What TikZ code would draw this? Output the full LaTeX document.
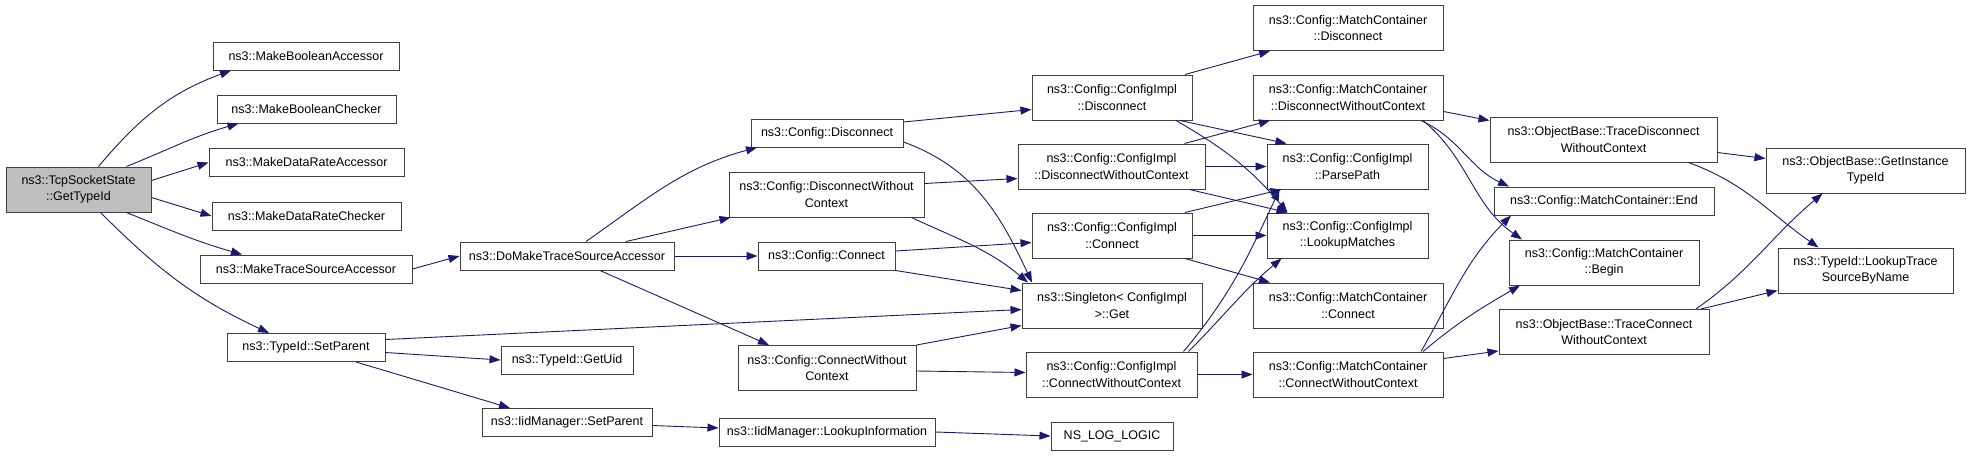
\documentclass[tikz,border=0pt]{standalone}
\usepackage{fontspec}
\setmainfont{Liberation Sans}
\usetikzlibrary{arrows.meta}
\definecolor{edgeblue}{RGB}{25,25,112}
\definecolor{boxgray}{RGB}{64,64,64}

\begin{document}
\begin{tikzpicture}
                [
                x=1pt, y=-1pt,
                fn/.style={draw=boxgray, line width=1pt, rectangle, inner sep=0pt, align=center,
                    minimum width=#1, minimum height=28pt, font=\fontsize{12.5}{16.5}\selectfont},
                fn2/.style={fn=#1, minimum height=45pt},
                edge/.style={-{Triangle[length=11pt,width=8pt]}, draw=edgeblue, line width=0.9pt}
                ]
                \useasboundingbox (0,0) rectangle (1971,456);
                % Root node
                \node[fn2=145, fill=gray!50] (root) at (78.5,189.5) {ns3::TcpSocketState\\::GetTypeId};
                % Level 1: direct callees
                \node[fn=186] (mba) at (306,56) {ns3::MakeBooleanAccessor};
                \node[fn=179] (mbc) at (306.5,109) {ns3::MakeBooleanChecker};
                \node[fn=195] (mda) at (306.5,162.5) {ns3::MakeDataRateAccessor};
                \node[fn=189] (mdc) at (306.5,216) {ns3::MakeDataRateChecker};
                \node[fn=212] (mtsa) at (306,269) {ns3::MakeTraceSourceAccessor};
                \node[fn=158] (tsp) at (306,347.5) {ns3::TypeId::SetParent};
                % Level 2
                \node[fn=214] (domake) at (567,256) {ns3::DoMakeTraceSourceAccessor};
                \node[fn=132] (getuid) at (567,360) {ns3::TypeId::GetUid};
                \node[fn=170] (iidsp) at (567,422.5) {ns3::IidManager::SetParent};
                % Level 3
                \node[fn=152] (cdis) at (827,133) {ns3::Config::Disconnect};
                \node[fn2=195] (cdiswc) at (826.5,194.5) {ns3::Config::DisconnectWithout\\Context};
                \node[fn=137] (ccon) at (826.5,256) {ns3::Config::Connect};
                \node[fn2=178] (cconwc) at (827,368) {ns3::Config::ConnectWithout\\Context};
                \node[fn=216] (iidli) at (827,432) {ns3::IidManager::LookupInformation};
                % Level 4
                \node[fn2=160] (cidis) at (1112,97.5) {ns3::Config::ConfigImpl\\::Disconnect};
                \node[fn2=187] (cidiswc) at (1111.5,166.5) {ns3::Config::ConfigImpl\\::DisconnectWithoutContext};
                \node[fn2=160] (cicon) at (1112,235.5) {ns3::Config::ConfigImpl\\::Connect};
                \node[fn2=180] (sget) at (1112,305.5) {ns3::Singleton< ConfigImpl\\>::Get};
                \node[fn2=171] (ciconwc) at (1111.5,374.5) {ns3::Config::ConfigImpl\\::ConnectWithoutContext};
                \node[fn=122] (nslog) at (1112,436) {NS\_LOG\_LOGIC};
                % Level 5
                \node[fn2=190] (mcdis) at (1348,28) {ns3::Config::MatchContainer\\::Disconnect};
                \node[fn2=190] (mcdiswc) at (1348,97.5) {ns3::Config::MatchContainer\\::DisconnectWithoutContext};
                \node[fn2=161] (parse) at (1347.5,166.5) {ns3::Config::ConfigImpl\\::ParsePath};
                \node[fn2=161] (lookup) at (1347.5,235.5) {ns3::Config::ConfigImpl\\::LookupMatches};
                \node[fn2=190] (mccon) at (1348,305.5) {ns3::Config::MatchContainer\\::Connect};
                \node[fn2=190] (mcconwc) at (1348,374.5) {ns3::Config::MatchContainer\\::ConnectWithoutContext};
                % Level 6
                \node[fn2=227] (otdis) at (1603.5,139.5) {ns3::ObjectBase::TraceDisconnect\\WithoutContext};
                \node[fn=220] (mcend) at (1604,201) {ns3::Config::MatchContainer::End};
                \node[fn2=190] (mcbegin) at (1604,262.5) {ns3::Config::MatchContainer\\::Begin};
                \node[fn2=210] (otcon) at (1604,332) {ns3::ObjectBase::TraceConnect\\WithoutContext};
                % Level 7
                \node[fn2=199] (git) at (1865.5,170.5) {ns3::ObjectBase::GetInstance\\TypeId};
                \node[fn2=175] (lts) at (1865.5,270.5) {ns3::TypeId::LookupTrace\\SourceByName};
                % Edges from the root
                \draw[edge] ([xshift=20pt]root.north) to[out=50, in=200] ([xshift=-75pt]mba.south);
                \draw[edge] ([xshift=48pt]root.north) to[out=22, in=196] ([xshift=-68pt]mbc.south);
                \draw[edge] ([yshift=9pt]root.east) -- (mda.west);
                \draw[edge] ([yshift=-8pt]root.east) -- (mdc.west);
                \draw[edge] ([xshift=48pt]root.south) to[out=-22, in=164] ([xshift=-64pt]mtsa.north);
                \draw[edge] ([xshift=22pt]root.south) to[out=-45, in=155] ([xshift=-37pt]tsp.north);
                % Level 1 and 2 edges
                \draw[edge] (mtsa.east) -- (domake.west);
                \draw[edge] ([yshift=8pt]tsp.east) -- ([yshift=-4pt]sget.west);
                \draw[edge] ([yshift=-5pt]tsp.east) -- (getuid.west);
                \draw[edge] ([xshift=50pt]tsp.south) -- ([xshift=-57pt]iidsp.north);
                \draw[edge] ([yshift=-3pt]iidsp.east) -- ([yshift=4pt]iidli.west);
                \draw[edge] (iidli.east) -- (nslog.west);
                \draw[edge] ([xshift=19pt]domake.north) to[out=35, in=195] ([xshift=-70pt]cdis.south);
                \draw[edge] ([xshift=59pt]domake.north) -- ([xshift=-96pt]cdiswc.south);
                \draw[edge] (domake.east) -- (ccon.west);
                \draw[edge] ([xshift=33pt]domake.south) -- ([xshift=-58pt]cconwc.north);
                % Level 3 edges
                \draw[edge] ([yshift=11pt]cdis.east) -- ([yshift=-12pt]cidis.west);
                \draw[edge] ([yshift=-9pt]cdis.east) to[out=-20, in=115] ([xshift=-80pt]sget.north);
                \draw[edge] ([yshift=11pt]cdiswc.east) -- ([yshift=-12pt]cidiswc.west);
                \draw[edge] ([xshift=85pt]cdiswc.south) to[out=-25, in=140] ([xshift=-84pt]sget.north);
                \draw[edge] ([yshift=5pt]ccon.east) -- ([yshift=-7pt]cicon.west);
                \draw[edge] (ccon.south east) -- ([yshift=15pt]sget.west);
                \draw[edge] (cconwc.north east) -- ([yshift=-20pt]sget.west);
                \draw[edge] ([yshift=-3pt]cconwc.east) -- ([yshift=2pt]ciconwc.west);
                % Level 4 edges
                \draw[edge] ([xshift=73pt]cidis.north) -- ([xshift=-78pt]mcdis.south);
                \draw[edge] ([xshift=68pt]cidis.south) -- ([xshift=-61pt]parse.north);
                \draw[edge] ([xshift=64pt]cidis.south) to[out=-30, in=130] ([xshift=-60pt]lookup.north);
                \draw[edge] ([xshift=73pt]cidiswc.north) -- ([xshift=-78pt]mcdiswc.south);
                \draw[edge] (cidiswc.east) -- (parse.west);
                \draw[edge] ([xshift=78pt]cidiswc.south) -- ([xshift=-60pt]lookup.north);
                \draw[edge] ([xshift=73pt]cicon.north) -- ([xshift=-66pt]parse.south);
                \draw[edge] (cicon.east) -- (lookup.west);
                \draw[edge] ([xshift=73pt]cicon.south) -- ([xshift=-78pt]mccon.north);
                \draw[edge] ([xshift=72pt]ciconwc.north) to[out=50, in=-115] ([xshift=-68pt]parse.south);
                \draw[edge] ([xshift=77pt]ciconwc.north) to[out=45, in=-140] ([xshift=-66pt]lookup.south);
                \draw[edge] (ciconwc.east) -- (mcconwc.west);
                % Level 5 edges
                \draw[edge] ([yshift=-14pt]mcdiswc.east) -- ([yshift=19pt]otdis.west);
                \draw[edge] ([xshift=73pt]mcdiswc.south) to[out=-25, in=155] ([xshift=-95pt]mcend.north);
                \draw[edge] ([xshift=75pt]mcdiswc.south) to[out=-40, in=145] ([xshift=-82pt]mcbegin.north);
                \draw[edge] ([xshift=73pt]mcconwc.north) to[out=60, in=-135] ([xshift=-93pt]mcend.south);
                \draw[edge] ([xshift=75pt]mcconwc.north) to[out=40, in=-150] ([xshift=-84pt]mcbegin.south);
                \draw[edge] ([yshift=16pt]mcconwc.east) -- ([yshift=-19pt]otcon.west);
                % Level 6 edges
                \draw[edge] ([yshift=-13pt]otdis.east) -- ([yshift=12pt]git.west);
                \draw[edge] ([xshift=85pt]otdis.south) to[out=-20, in=145] ([xshift=-47pt]lts.north);
                \draw[edge] ([xshift=92pt]otcon.north) to[out=35, in=-140] ([xshift=-43pt]git.south);
                \draw[edge] ([xshift=97pt]otcon.north) -- ([yshift=-20pt]lts.west);
            \end{tikzpicture}
\end{document}
